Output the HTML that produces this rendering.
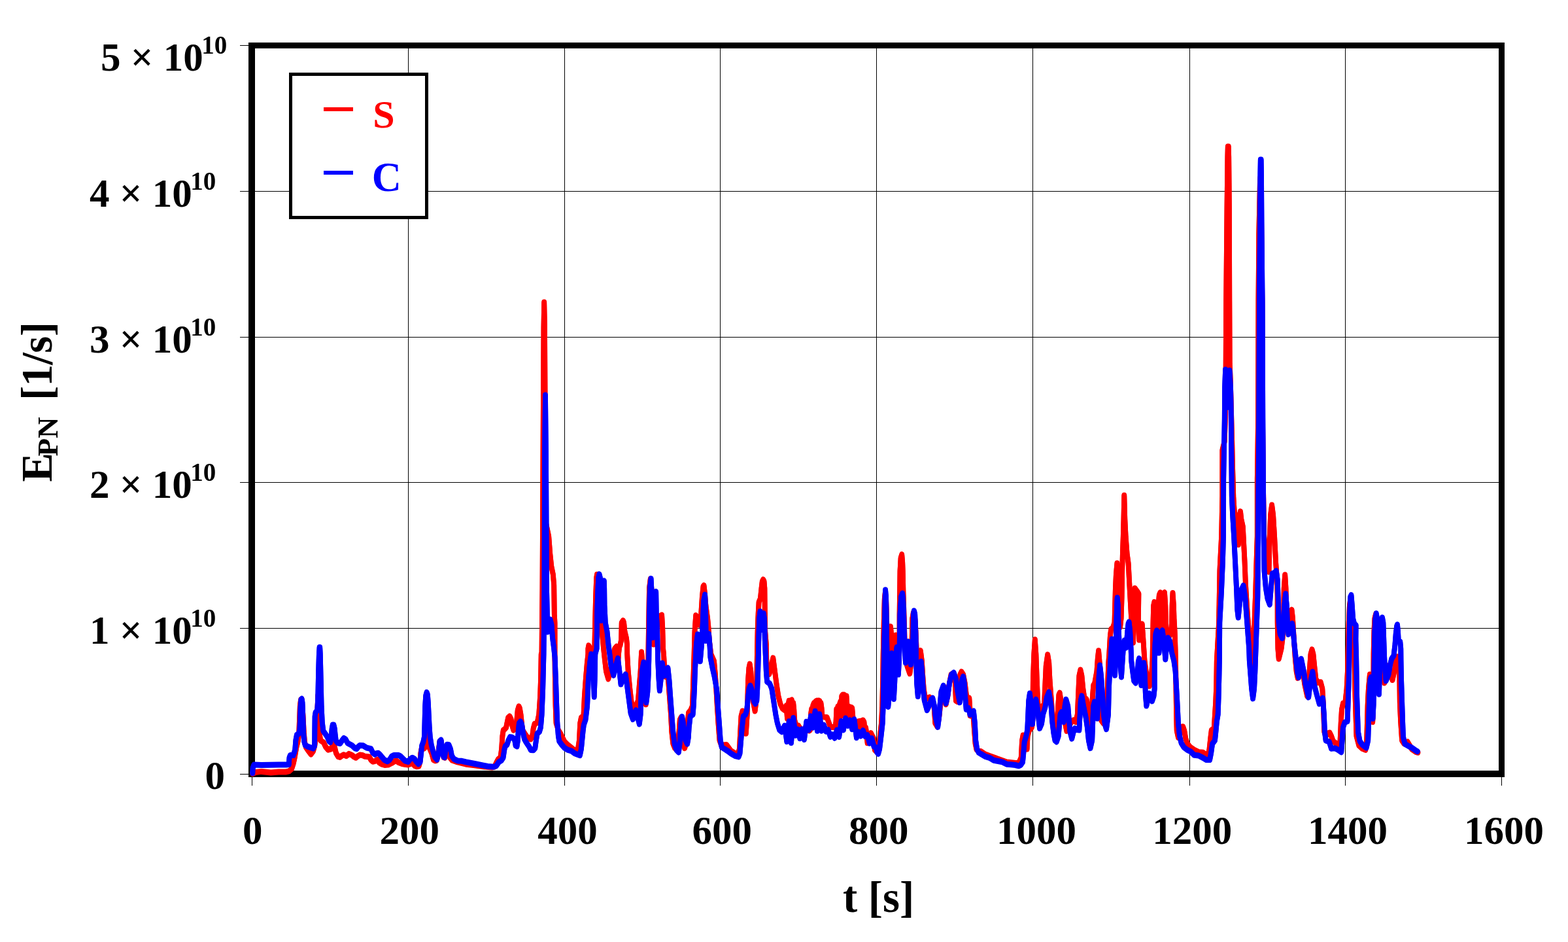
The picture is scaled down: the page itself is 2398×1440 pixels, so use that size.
<!DOCTYPE html>
<html lang="en">
<head>
<meta charset="utf-8">
<title>E_PN vs t</title>
<style>
html,body{margin:0;padding:0;background:#fff;}
body{width:2398px;height:1440px;overflow:hidden;}
svg{display:block;}
text{font-family:"Liberation Serif","DejaVu Serif",serif;font-weight:bold;fill:#000;}
.tk{font-size:61px;}
.sup{font-size:39px;}
.ttl{font-size:66.7px;}
.sub{font-size:45px;}
.lg{font-size:60px;}
</style>
</head>
<body>
<svg width="2398" height="1440" viewBox="0 0 2398 1440">
<rect x="0" y="0" width="2398" height="1440" fill="#fff"/>
<g fill="#000" shape-rendering="crispEdges"><rect x="624" y="74" width="1" height="1104"/><rect x="863" y="74" width="1" height="1104"/><rect x="1101" y="74" width="1" height="1104"/><rect x="1340" y="74" width="1" height="1104"/><rect x="1579" y="74" width="1" height="1104"/><rect x="1819" y="74" width="1" height="1104"/><rect x="2057" y="74" width="1" height="1104"/><rect x="390" y="960" width="1902" height="1"/><rect x="390" y="737" width="1902" height="1"/><rect x="390" y="515" width="1902" height="1"/><rect x="390" y="292" width="1902" height="1"/><rect x="385" y="1188" width="1" height="13"/><rect x="624" y="1188" width="1" height="13"/><rect x="863" y="1188" width="1" height="13"/><rect x="1101" y="1188" width="1" height="13"/><rect x="1340" y="1188" width="1" height="13"/><rect x="1579" y="1188" width="1" height="13"/><rect x="1819" y="1188" width="1" height="13"/><rect x="2057" y="1188" width="1" height="13"/><rect x="2296" y="1188" width="1" height="13"/><rect x="367" y="1183" width="13" height="1"/><rect x="367" y="960" width="13" height="1"/><rect x="367" y="737" width="13" height="1"/><rect x="367" y="515" width="13" height="1"/><rect x="367" y="292" width="13" height="1"/><rect x="367" y="69" width="13" height="1"/></g>
<path fill="#000" fill-rule="evenodd" shape-rendering="crispEdges" d="M442 111H655V335H442ZM447 116V330H650V116Z"/>
<rect x="447" y="116" width="203" height="214" fill="#fff"/>
<rect x="495" y="164" width="45" height="6" fill="#f00" shape-rendering="crispEdges"/>
<rect x="495" y="261" width="45" height="6" fill="#00f" shape-rendering="crispEdges"/>
<text class="lg" x="570.2" y="195" style="fill:#f00">S</text>
<text class="lg" x="568.8" y="292" style="fill:#00f;font-size:62.5px">C</text>
<path fill="#000" fill-rule="evenodd" shape-rendering="crispEdges" d="M380 65H2301V1188H380ZM390 74V1178H2292V74Z"/>
<g><polyline points="386.3,1182.5 390.6,1180.5 399.8,1179.4 414.3,1181.0 426.2,1180.1 436.7,1180.1 442.0,1178.8 446.0,1175.5 448.6,1167.5 450.6,1158.3 453.2,1143.1 455.9,1131.9 457.2,1121.4 457.8,1105.5 458.8,1079.2 460.1,1069.3 461.5,1068.9 463.4,1092.3 464.7,1118.7 466.0,1134.6 468.0,1142.5 471.7,1147.8 475.6,1153.0 478.9,1148.4 481.3,1139.8 484.2,1118.7 485.5,1084.4 486.2,1063.3 487.1,1084.4 488.2,1118.7 490.2,1131.9 494.8,1134.8 498.1,1141.8 502.0,1146.2 506.0,1145.1 508.6,1139.8 509.9,1137.2 511.9,1142.5 513.9,1151.1 517.2,1156.7 519.8,1157.4 523.1,1155.0 525.8,1153.7 529.7,1155.7 533.7,1152.4 538.3,1154.4 541.6,1157.0 544.2,1158.3 547.5,1155.7 550.2,1154.1 554.1,1154.4 558.1,1156.3 564.7,1157.0 567.3,1161.6 570.0,1164.2 573.3,1163.6 577.2,1161.2 579.9,1165.6 583.8,1168.2 588.4,1169.5 593.7,1169.1 599.0,1166.5 603.6,1163.6 606.3,1162.9 609.6,1165.6 614.8,1167.5 620.1,1168.6 624.1,1168.9 629.3,1166.9 631.3,1167.5 634.6,1170.8 637.3,1171.8 640.6,1171.2 642.3,1164.9 643.3,1151.7 644.5,1145.1 649.1,1143.8 651.8,1131.9 653.7,1122.7 655.5,1131.9 657.0,1143.8 660.3,1151.7 663.0,1161.6 665.6,1162.9 667.9,1162.3 670.6,1147.8 672.5,1133.2 674.5,1131.9 676.5,1145.1 678.5,1157.7 680.4,1158.3 682.4,1147.8 684.4,1142.5 686.4,1147.8 688.4,1158.3 691.7,1162.3 699.6,1164.9 712.8,1168.2 726.0,1169.8 739.2,1171.8 752.3,1173.1 756.3,1172.2 759.6,1164.9 762.2,1160.3 765.5,1157.7 767.1,1145.1 768.4,1125.3 769.8,1116.1 772.1,1114.5 774.1,1112.1 775.4,1105.5 777.2,1097.0 779.4,1095.0 781.4,1098.9 783.4,1109.5 785.3,1116.1 786.6,1114.8 789.9,1105.5 791.7,1085.8 793.5,1079.8 794.8,1082.5 796.5,1092.3 797.9,1105.5 799.2,1116.1 802.5,1121.4 805.8,1126.0 809.1,1129.0 811.7,1129.9 814.1,1125.3 815.7,1113.5 817.7,1106.2 821.6,1104.9 824.2,1092.3 826.0,1066.0 827.0,1039.6 827.7,1000.0 828.5,1000.0 829.5,900.0 830.5,700.0 831.5,500.0 832.2,462.0 833.0,500.0 834.0,700.0 835.0,800.0 839.2,820.0 841.2,846.0 843.3,866.0 845.8,878.0 847.2,894.0 847.8,939.0 848.5,952.0 848.5,1005.0 848.9,1039.6 849.6,1079.2 850.6,1105.5 853.9,1116.1 857.2,1121.4 863.2,1133.5 868.4,1138.8 873.7,1142.9 879.0,1147.1 882.3,1149.7 884.3,1142.5 885.9,1131.9 887.2,1105.5 888.9,1097.0 892.5,1094.3 893.8,1066.0 895.9,1036.9 897.9,1013.2 899.4,1000.0 899.4,991.5 900.3,986.9 902.0,990.2 904.7,1000.7 907.3,1002.1 909.3,991.5 910.3,945.3 911.1,912.3 912.2,883.3 913.0,878.3 913.9,883.3 915.2,912.3 917.2,938.7 919.8,951.9 921.2,971.7 923.1,991.5 925.1,1010.0 925.1,1010.0 927.0,1026.3 930.3,1037.8 935.0,1017.9 938.3,999.9 940.2,991.5 942.9,988.2 944.2,998.1 945.1,1012.6 946.2,998.1 947.2,988.9 948.5,986.2 950.1,978.3 950.7,951.9 952.8,948.6 954.1,951.9 955.4,965.1 958.0,975.7 959.1,986.2 959.2,999.9 960.7,1026.3 963.3,1052.7 965.7,1073.8 970.6,1084.4 975.9,1070.7 977.8,1047.4 979.6,1026.3 981.1,996.8 983.1,1017.9 985.1,1050.9 987.7,1076.7 990.0,1050.9 991.0,1039.5 991.4,999.9 992.1,951.9 993.0,899.2 994.7,885.3 996.3,899.2 998.3,951.9 999.6,984.9 1002.2,965.1 1006.9,951.9 1010.2,941.4 1012.1,940.1 1013.2,958.5 1014.1,991.5 1015.0,999.9 1016.1,1019.7 1017.4,1034.2 1020.1,1031.1 1022.0,1039.5 1024.0,1065.9 1026.0,1092.3 1027.3,1118.7 1029.3,1136.6 1031.9,1143.2 1034.8,1146.4 1037.2,1131.9 1038.5,1118.7 1039.8,1100.2 1041.8,1096.3 1044.5,1118.7 1045.8,1138.5 1047.1,1143.7 1050.4,1131.9 1051.7,1105.5 1053.0,1089.7 1056.3,1085.7 1059.0,1079.1 1060.3,1039.5 1061.6,999.9 1062.5,965.1 1064.2,940.7 1066.5,946.6 1069.5,955.2 1072.2,938.7 1073.9,912.3 1075.5,896.5 1076.5,894.9 1077.8,905.8 1079.4,925.5 1082.1,945.3 1083.4,958.5 1084.7,978.3 1087.3,999.9 1092.0,1010.5 1093.7,1029.0 1095.3,1052.7 1096.8,1079.1 1098.5,1105.5 1100.5,1131.9 1103.2,1139.3 1111.1,1138.5 1117.7,1147.7 1124.3,1151.7 1128.2,1153.6 1130.9,1145.1 1132.2,1118.7 1133.5,1094.9 1135.5,1087.0 1138.8,1092.3 1140.8,1121.3 1142.7,1092.3 1144.1,1039.5 1145.4,1021.1 1146.7,1015.1 1148.3,1026.3 1150.0,1052.7 1152.2,1073.8 1154.6,1087.0 1156.6,1070.7 1157.5,1031.1 1157.9,999.9 1158.6,965.1 1159.6,938.7 1160.6,920.3 1162.9,915.0 1164.5,899.2 1165.8,888.6 1167.2,886.0 1168.5,888.6 1169.4,899.2 1169.8,938.7 1170.2,965.1 1171.8,984.9 1172.3,1010.0 1173.7,1026.3 1176.4,1030.3 1179.7,1017.9 1182.3,1005.9 1185.0,1026.3 1187.6,1046.1 1190.2,1063.3 1193.5,1076.5 1196.8,1083.1 1200.0,1085.7 1201.3,1082.5 1202.6,1078.6 1204.0,1098.4 1205.5,1077.3 1206.6,1071.3 1208.2,1094.4 1209.5,1070.7 1210.8,1070.0 1212.1,1093.1 1213.2,1074.6 1214.2,1083.9 1215.2,1101.0 1217.2,1108.1 1221.1,1109.4 1226.4,1117.4 1230.3,1114.2 1234.3,1110.2 1237.6,1116.8 1238.9,1116.0 1240.2,1090.4 1241.2,1083.9 1242.2,1101.0 1243.3,1078.6 1244.9,1074.6 1246.2,1094.4 1247.5,1072.2 1249.1,1071.2 1250.4,1091.8 1251.7,1070.9 1253.4,1071.5 1254.4,1090.4 1255.4,1074.6 1256.5,1082.5 1257.4,1094.4 1259.4,1095.7 1261.3,1096.3 1264.6,1096.4 1266.0,1100.2 1269.3,1109.4 1271.2,1111.4 1273.9,1111.4 1277.2,1112.2 1278.5,1103.6 1279.4,1083.9 1280.5,1099.7 1281.5,1079.9 1282.8,1097.0 1284.2,1075.9 1285.5,1072.0 1286.4,1094.4 1287.3,1064.1 1288.7,1062.2 1289.7,1090.4 1290.8,1062.0 1292.3,1063.0 1293.4,1090.4 1294.5,1064.1 1295.3,1075.9 1296.0,1094.4 1297.4,1082.5 1298.9,1080.6 1300.3,1095.7 1301.6,1081.2 1303.2,1082.5 1304.2,1094.4 1305.5,1102.8 1309.5,1110.2 1311.5,1105.0 1312.8,1103.0 1314.1,1115.5 1315.4,1102.3 1317.2,1102.3 1318.5,1116.8 1319.8,1101.0 1321.4,1103.6 1322.7,1118.2 1324.0,1112.1 1325.6,1123.4 1326.6,1135.8 1329.3,1126.1 1331.9,1120.7 1335.9,1128.7 1337.9,1146.4 1341.2,1149.8 1343.8,1145.1 1345.8,1125.3 1348.0,1105.5 1349.3,1079.1 1350.1,1039.5 1350.7,999.9 1351.7,951.9 1352.8,915.0 1353.8,905.8 1355.1,915.0 1356.2,951.9 1357.7,999.9 1359.0,978.3 1360.7,959.8 1362.0,957.9 1363.3,971.7 1364.2,994.1 1365.6,995.5 1366.5,978.3 1368.2,971.7 1369.9,971.1 1371.2,984.9 1372.2,995.5 1374.1,991.5 1375.6,978.3 1375.6,941.4 1376.5,872.8 1377.6,853.0 1379.2,847.7 1380.2,859.6 1380.7,872.8 1381.4,904.4 1382.6,942.7 1383.4,973.0 1384.4,999.9 1387.3,1017.9 1391.3,1029.6 1393.7,1011.3 1394.7,978.3 1395.3,945.3 1396.8,936.8 1398.2,936.8 1399.9,951.9 1401.6,991.5 1403.8,1004.7 1405.8,998.1 1407.8,994.8 1409.8,1010.0 1411.1,1031.1 1412.7,1052.7 1414.4,1064.1 1417.7,1068.0 1421.6,1065.9 1424.9,1070.7 1428.4,1079.1 1430.3,1105.5 1433.5,1110.8 1436.1,1097.0 1438.1,1079.1 1439.6,1070.7 1441.6,1052.7 1443.4,1049.6 1445.1,1064.1 1446.7,1076.7 1449.3,1064.1 1452.0,1044.3 1454.6,1031.1 1457.9,1029.1 1460.6,1039.5 1461.9,1071.2 1463.9,1072.5 1466.5,1050.9 1468.5,1031.1 1470.4,1027.0 1473.1,1031.1 1475.7,1044.3 1477.7,1061.4 1479.7,1068.0 1482.3,1067.2 1483.4,1083.9 1483.6,1093.9 1486.9,1090.4 1488.9,1098.9 1490.2,1118.7 1491.6,1136.6 1493.5,1145.9 1496.8,1148.5 1500.0,1148.5 1506.6,1153.0 1513.2,1155.6 1526.4,1160.2 1539.6,1164.9 1552.8,1166.4 1558.0,1166.2 1561.7,1158.3 1563.1,1131.9 1564.6,1124.0 1567.9,1131.9 1570.6,1145.1 1571.5,1125.3 1573.9,1116.8 1577.8,1112.1 1579.2,1105.5 1579.9,1039.5 1581.3,999.9 1582.8,977.7 1584.4,999.9 1585.5,1031.1 1586.5,1057.5 1587.6,1079.1 1588.7,1097.6 1591.0,1109.4 1593.0,1090.4 1594.7,1079.1 1597.0,1076.5 1598.4,1046.1 1599.7,1017.9 1602.2,1000.7 1604.2,1013.1 1605.5,1039.5 1607.5,1065.9 1609.5,1092.3 1611.1,1112.1 1613.5,1116.0 1616.8,1105.5 1618.2,1079.1 1619.4,1062.0 1620.7,1059.1 1622.4,1070.7 1624.7,1083.9 1627.3,1097.0 1631.3,1117.4 1634.6,1110.2 1638.5,1103.6 1641.8,1100.9 1645.1,1103.6 1647.8,1092.3 1649.1,1062.0 1650.4,1032.9 1652.4,1024.0 1654.4,1032.9 1656.3,1052.7 1658.3,1065.9 1661.6,1069.2 1663.3,1079.1 1664.9,1097.0 1666.5,1110.2 1668.9,1097.0 1671.0,1063.3 1672.3,1047.4 1674.1,1044.8 1677.4,1026.3 1678.8,1006.5 1680.1,994.8 1682.1,1017.9 1683.4,1070.7 1684.0,1100.9 1687.3,1105.5 1691.3,1097.0 1693.4,1065.9 1695.3,1013.1 1696.3,999.9 1697.9,971.7 1699.2,961.8 1701.8,959.8 1704.5,951.9 1705.9,899.2 1706.9,878.0 1708.4,860.9 1710.0,879.4 1711.3,918.9 1713.1,958.5 1714.6,945.3 1715.6,912.3 1716.2,872.8 1717.0,842.4 1717.8,820.0 1718.5,793.6 1719.3,757.3 1720.3,793.6 1721.6,820.0 1723.6,846.4 1725.6,860.9 1726.6,879.4 1728.0,905.8 1729.8,938.7 1731.5,965.1 1733.0,982.3 1734.0,951.9 1734.8,912.3 1735.6,899.2 1737.5,901.8 1739.4,904.4 1741.4,907.7 1740.9,945.3 1742.1,978.3 1744.1,965.1 1746.7,953.9 1748.0,971.7 1749.3,991.5 1750.5,1010.0 1752.6,1026.3 1755.9,1039.5 1757.9,1048.8 1760.6,1037.7 1762.5,1010.0 1763.5,951.9 1764.2,925.5 1765.4,920.3 1767.2,925.5 1768.5,951.9 1769.4,965.1 1770.4,951.9 1771.5,925.5 1772.8,909.7 1774.4,905.8 1775.7,925.5 1776.4,951.9 1776.8,965.1 1777.6,951.9 1778.4,925.5 1779.4,907.1 1781.0,905.8 1782.3,925.5 1783.2,959.8 1785.6,969.1 1788.9,971.7 1790.9,965.1 1792.0,951.9 1792.6,925.5 1793.5,906.4 1794.9,925.5 1795.5,945.3 1796.6,965.1 1797.5,991.5 1798.2,1025.9 1798.5,1052.3 1799.1,1091.9 1799.7,1116.8 1802.0,1127.4 1804.0,1123.4 1805.9,1114.2 1807.7,1111.0 1809.2,1110.8 1811.2,1116.8 1813.2,1128.7 1815.8,1136.6 1819.8,1141.8 1826.4,1146.4 1833.0,1149.7 1839.6,1150.3 1844.9,1154.3 1847.2,1156.3 1849.5,1145.1 1851.5,1126.6 1852.8,1116.0 1856.7,1113.4 1858.0,1092.3 1859.1,1075.1 1860.2,1050.1 1860.8,1010.0 1864.1,951.9 1865.4,872.8 1868.1,820.0 1869.4,758.8 1869.4,688.1 1872.7,674.9 1873.9,640.1 1874.7,556.1 1875.2,460.0 1876.5,318.7 1877.4,239.5 1877.8,224.0 1878.8,224.0 1879.2,239.5 1879.9,318.7 1880.3,460.0 1880.7,556.1 1881.8,582.5 1884.3,679.6 1885.0,712.6 1886.3,758.8 1887.6,779.9 1891.0,798.4 1893.0,818.2 1893.9,832.5 1895.0,806.8 1896.0,787.0 1897.0,781.9 1898.3,793.6 1900.8,805.0 1902.1,830.0 1903.6,859.6 1904.9,892.6 1906.9,925.5 1908.8,951.9 1911.5,978.3 1913.7,999.9 1915.4,1039.5 1917.2,999.9 1918.9,938.7 1920.2,905.8 1921.5,859.6 1922.8,820.0 1922.8,732.4 1924.1,640.1 1924.5,460.0 1925.3,358.3 1926.9,279.1 1927.6,270.4 1928.5,279.1 1929.3,358.3 1930.3,460.0 1931.0,640.1 1931.7,727.7 1933.2,820.0 1937.2,859.6 1940.5,874.1 1941.8,820.0 1943.1,787.0 1945.1,772.0 1947.1,787.0 1949.1,820.0 1951.1,859.6 1953.0,886.0 1953.7,912.3 1953.7,951.9 1954.4,991.5 1955.7,1007.2 1959.6,991.5 1962.0,971.7 1963.1,945.3 1963.7,899.2 1965.2,878.7 1966.5,899.2 1967.3,925.5 1970.2,951.9 1972.8,938.7 1975.5,932.1 1977.0,945.3 1978.1,965.1 1979.4,984.9 1980.7,1004.7 1982.7,1026.3 1984.7,1036.4 1986.7,1017.9 1988.7,1008.7 1992.6,1026.3 1995.3,1046.1 1999.2,1064.1 2001.2,1044.3 2003.2,1017.9 2004.5,999.9 2006.5,992.8 2008.4,999.9 2010.4,1019.7 2012.4,1038.2 2015.7,1043.5 2019.7,1042.8 2022.3,1052.7 2023.6,1072.5 2024.3,1092.3 2025.3,1118.7 2027.6,1125.3 2030.2,1121.3 2033.5,1120.0 2036.1,1125.3 2038.8,1133.2 2042.7,1135.8 2045.4,1142.4 2048.0,1146.4 2049.6,1131.9 2050.7,1105.5 2052.0,1084.4 2054.0,1075.1 2057.3,1073.8 2059.6,1052.7 2060.9,1026.3 2061.3,1010.0 2062.7,951.9 2063.9,925.5 2065.4,915.0 2067.2,925.5 2069.1,951.9 2070.4,978.3 2071.2,999.9 2072.6,1065.9 2074.5,1125.3 2078.4,1139.8 2083.6,1144.4 2088.3,1146.4 2090.2,1131.9 2091.6,1079.1 2092.9,1052.7 2094.9,1031.1 2096.8,1033.7 2098.2,1057.5 2099.2,1103.6 2100.1,1083.9 2100.4,1044.3 2100.6,999.9 2101.4,965.1 2102.4,945.3 2104.1,938.7 2105.7,946.6 2107.0,978.3 2108.4,1057.5 2110.1,1017.9 2111.7,978.3 2113.2,946.6 2114.6,951.9 2115.6,978.3 2117.2,1044.1 2119.6,1037.7 2123.5,1017.9 2126.2,1025.8 2129.5,1039.5 2132.8,1024.5 2135.4,1007.3 2137.4,1004.0 2139.4,1011.3 2140.2,1023.7 2140.8,1073.8 2142.1,1102.8 2144.1,1131.9 2147.3,1136.6 2152.6,1134.0 2159.2,1145.1 2165.8,1149.7 2168.4,1150.3" fill="none" stroke="#f00" stroke-width="7.8" stroke-linejoin="round" stroke-linecap="round" transform="translate(0,-0.6)"/><polyline points="386.3,1182.5 390.6,1180.5 399.8,1179.4 414.3,1181.0 426.2,1180.1 436.7,1180.1 442.0,1178.8 446.0,1175.5 448.6,1167.5 450.6,1158.3 453.2,1143.1 455.9,1131.9 457.2,1121.4 457.8,1105.5 458.8,1079.2 460.1,1069.3 461.5,1068.9 463.4,1092.3 464.7,1118.7 466.0,1134.6 468.0,1142.5 471.7,1147.8 475.6,1153.0 478.9,1148.4 481.3,1139.8 484.2,1118.7 485.5,1084.4 486.2,1063.3 487.1,1084.4 488.2,1118.7 490.2,1131.9 494.8,1134.8 498.1,1141.8 502.0,1146.2 506.0,1145.1 508.6,1139.8 509.9,1137.2 511.9,1142.5 513.9,1151.1 517.2,1156.7 519.8,1157.4 523.1,1155.0 525.8,1153.7 529.7,1155.7 533.7,1152.4 538.3,1154.4 541.6,1157.0 544.2,1158.3 547.5,1155.7 550.2,1154.1 554.1,1154.4 558.1,1156.3 564.7,1157.0 567.3,1161.6 570.0,1164.2 573.3,1163.6 577.2,1161.2 579.9,1165.6 583.8,1168.2 588.4,1169.5 593.7,1169.1 599.0,1166.5 603.6,1163.6 606.3,1162.9 609.6,1165.6 614.8,1167.5 620.1,1168.6 624.1,1168.9 629.3,1166.9 631.3,1167.5 634.6,1170.8 637.3,1171.8 640.6,1171.2 642.3,1164.9 643.3,1151.7 644.5,1145.1 649.1,1143.8 651.8,1131.9 653.7,1122.7 655.5,1131.9 657.0,1143.8 660.3,1151.7 663.0,1161.6 665.6,1162.9 667.9,1162.3 670.6,1147.8 672.5,1133.2 674.5,1131.9 676.5,1145.1 678.5,1157.7 680.4,1158.3 682.4,1147.8 684.4,1142.5 686.4,1147.8 688.4,1158.3 691.7,1162.3 699.6,1164.9 712.8,1168.2 726.0,1169.8 739.2,1171.8 752.3,1173.1 756.3,1172.2 759.6,1164.9 762.2,1160.3 765.5,1157.7 767.1,1145.1 768.4,1125.3 769.8,1116.1 772.1,1114.5 774.1,1112.1 775.4,1105.5 777.2,1097.0 779.4,1095.0 781.4,1098.9 783.4,1109.5 785.3,1116.1 786.6,1114.8 789.9,1105.5 791.7,1085.8 793.5,1079.8 794.8,1082.5 796.5,1092.3 797.9,1105.5 799.2,1116.1 802.5,1121.4 805.8,1126.0 809.1,1129.0 811.7,1129.9 814.1,1125.3 815.7,1113.5 817.7,1106.2 821.6,1104.9 824.2,1092.3 826.0,1066.0 827.0,1039.6 827.7,1000.0 828.5,1000.0 829.5,900.0 830.5,700.0 831.5,500.0 832.2,462.0 833.0,500.0 834.0,700.0 835.0,800.0 839.2,820.0 841.2,846.0 843.3,866.0 845.8,878.0 847.2,894.0 847.8,939.0 848.5,952.0 848.5,1005.0 848.9,1039.6 849.6,1079.2 850.6,1105.5 853.9,1116.1 857.2,1121.4 863.2,1133.5 868.4,1138.8 873.7,1142.9 879.0,1147.1 882.3,1149.7 884.3,1142.5 885.9,1131.9 887.2,1105.5 888.9,1097.0 892.5,1094.3 893.8,1066.0 895.9,1036.9 897.9,1013.2 899.4,1000.0 899.4,991.5 900.3,986.9 902.0,990.2 904.7,1000.7 907.3,1002.1 909.3,991.5 910.3,945.3 911.1,912.3 912.2,883.3 913.0,878.3 913.9,883.3 915.2,912.3 917.2,938.7 919.8,951.9 921.2,971.7 923.1,991.5 925.1,1010.0 925.1,1010.0 927.0,1026.3 930.3,1037.8 935.0,1017.9 938.3,999.9 940.2,991.5 942.9,988.2 944.2,998.1 945.1,1012.6 946.2,998.1 947.2,988.9 948.5,986.2 950.1,978.3 950.7,951.9 952.8,948.6 954.1,951.9 955.4,965.1 958.0,975.7 959.1,986.2 959.2,999.9 960.7,1026.3 963.3,1052.7 965.7,1073.8 970.6,1084.4 975.9,1070.7 977.8,1047.4 979.6,1026.3 981.1,996.8 983.1,1017.9 985.1,1050.9 987.7,1076.7 990.0,1050.9 991.0,1039.5 991.4,999.9 992.1,951.9 993.0,899.2 994.7,885.3 996.3,899.2 998.3,951.9 999.6,984.9 1002.2,965.1 1006.9,951.9 1010.2,941.4 1012.1,940.1 1013.2,958.5 1014.1,991.5 1015.0,999.9 1016.1,1019.7 1017.4,1034.2 1020.1,1031.1 1022.0,1039.5 1024.0,1065.9 1026.0,1092.3 1027.3,1118.7 1029.3,1136.6 1031.9,1143.2 1034.8,1146.4 1037.2,1131.9 1038.5,1118.7 1039.8,1100.2 1041.8,1096.3 1044.5,1118.7 1045.8,1138.5 1047.1,1143.7 1050.4,1131.9 1051.7,1105.5 1053.0,1089.7 1056.3,1085.7 1059.0,1079.1 1060.3,1039.5 1061.6,999.9 1062.5,965.1 1064.2,940.7 1066.5,946.6 1069.5,955.2 1072.2,938.7 1073.9,912.3 1075.5,896.5 1076.5,894.9 1077.8,905.8 1079.4,925.5 1082.1,945.3 1083.4,958.5 1084.7,978.3 1087.3,999.9 1092.0,1010.5 1093.7,1029.0 1095.3,1052.7 1096.8,1079.1 1098.5,1105.5 1100.5,1131.9 1103.2,1139.3 1111.1,1138.5 1117.7,1147.7 1124.3,1151.7 1128.2,1153.6 1130.9,1145.1 1132.2,1118.7 1133.5,1094.9 1135.5,1087.0 1138.8,1092.3 1140.8,1121.3 1142.7,1092.3 1144.1,1039.5 1145.4,1021.1 1146.7,1015.1 1148.3,1026.3 1150.0,1052.7 1152.2,1073.8 1154.6,1087.0 1156.6,1070.7 1157.5,1031.1 1157.9,999.9 1158.6,965.1 1159.6,938.7 1160.6,920.3 1162.9,915.0 1164.5,899.2 1165.8,888.6 1167.2,886.0 1168.5,888.6 1169.4,899.2 1169.8,938.7 1170.2,965.1 1171.8,984.9 1172.3,1010.0 1173.7,1026.3 1176.4,1030.3 1179.7,1017.9 1182.3,1005.9 1185.0,1026.3 1187.6,1046.1 1190.2,1063.3 1193.5,1076.5 1196.8,1083.1 1200.0,1085.7 1201.3,1082.5 1202.6,1078.6 1204.0,1098.4 1205.5,1077.3 1206.6,1071.3 1208.2,1094.4 1209.5,1070.7 1210.8,1070.0 1212.1,1093.1 1213.2,1074.6 1214.2,1083.9 1215.2,1101.0 1217.2,1108.1 1221.1,1109.4 1226.4,1117.4 1230.3,1114.2 1234.3,1110.2 1237.6,1116.8 1238.9,1116.0 1240.2,1090.4 1241.2,1083.9 1242.2,1101.0 1243.3,1078.6 1244.9,1074.6 1246.2,1094.4 1247.5,1072.2 1249.1,1071.2 1250.4,1091.8 1251.7,1070.9 1253.4,1071.5 1254.4,1090.4 1255.4,1074.6 1256.5,1082.5 1257.4,1094.4 1259.4,1095.7 1261.3,1096.3 1264.6,1096.4 1266.0,1100.2 1269.3,1109.4 1271.2,1111.4 1273.9,1111.4 1277.2,1112.2 1278.5,1103.6 1279.4,1083.9 1280.5,1099.7 1281.5,1079.9 1282.8,1097.0 1284.2,1075.9 1285.5,1072.0 1286.4,1094.4 1287.3,1064.1 1288.7,1062.2 1289.7,1090.4 1290.8,1062.0 1292.3,1063.0 1293.4,1090.4 1294.5,1064.1 1295.3,1075.9 1296.0,1094.4 1297.4,1082.5 1298.9,1080.6 1300.3,1095.7 1301.6,1081.2 1303.2,1082.5 1304.2,1094.4 1305.5,1102.8 1309.5,1110.2 1311.5,1105.0 1312.8,1103.0 1314.1,1115.5 1315.4,1102.3 1317.2,1102.3 1318.5,1116.8 1319.8,1101.0 1321.4,1103.6 1322.7,1118.2 1324.0,1112.1 1325.6,1123.4 1326.6,1135.8 1329.3,1126.1 1331.9,1120.7 1335.9,1128.7 1337.9,1146.4 1341.2,1149.8 1343.8,1145.1 1345.8,1125.3 1348.0,1105.5 1349.3,1079.1 1350.1,1039.5 1350.7,999.9 1351.7,951.9 1352.8,915.0 1353.8,905.8 1355.1,915.0 1356.2,951.9 1357.7,999.9 1359.0,978.3 1360.7,959.8 1362.0,957.9 1363.3,971.7 1364.2,994.1 1365.6,995.5 1366.5,978.3 1368.2,971.7 1369.9,971.1 1371.2,984.9 1372.2,995.5 1374.1,991.5 1375.6,978.3 1375.6,941.4 1376.5,872.8 1377.6,853.0 1379.2,847.7 1380.2,859.6 1380.7,872.8 1381.4,904.4 1382.6,942.7 1383.4,973.0 1384.4,999.9 1387.3,1017.9 1391.3,1029.6 1393.7,1011.3 1394.7,978.3 1395.3,945.3 1396.8,936.8 1398.2,936.8 1399.9,951.9 1401.6,991.5 1403.8,1004.7 1405.8,998.1 1407.8,994.8 1409.8,1010.0 1411.1,1031.1 1412.7,1052.7 1414.4,1064.1 1417.7,1068.0 1421.6,1065.9 1424.9,1070.7 1428.4,1079.1 1430.3,1105.5 1433.5,1110.8 1436.1,1097.0 1438.1,1079.1 1439.6,1070.7 1441.6,1052.7 1443.4,1049.6 1445.1,1064.1 1446.7,1076.7 1449.3,1064.1 1452.0,1044.3 1454.6,1031.1 1457.9,1029.1 1460.6,1039.5 1461.9,1071.2 1463.9,1072.5 1466.5,1050.9 1468.5,1031.1 1470.4,1027.0 1473.1,1031.1 1475.7,1044.3 1477.7,1061.4 1479.7,1068.0 1482.3,1067.2 1483.4,1083.9 1483.6,1093.9 1486.9,1090.4 1488.9,1098.9 1490.2,1118.7 1491.6,1136.6 1493.5,1145.9 1496.8,1148.5 1500.0,1148.5 1506.6,1153.0 1513.2,1155.6 1526.4,1160.2 1539.6,1164.9 1552.8,1166.4 1558.0,1166.2 1561.7,1158.3 1563.1,1131.9 1564.6,1124.0 1567.9,1131.9 1570.6,1145.1 1571.5,1125.3 1573.9,1116.8 1577.8,1112.1 1579.2,1105.5 1579.9,1039.5 1581.3,999.9 1582.8,977.7 1584.4,999.9 1585.5,1031.1 1586.5,1057.5 1587.6,1079.1 1588.7,1097.6 1591.0,1109.4 1593.0,1090.4 1594.7,1079.1 1597.0,1076.5 1598.4,1046.1 1599.7,1017.9 1602.2,1000.7 1604.2,1013.1 1605.5,1039.5 1607.5,1065.9 1609.5,1092.3 1611.1,1112.1 1613.5,1116.0 1616.8,1105.5 1618.2,1079.1 1619.4,1062.0 1620.7,1059.1 1622.4,1070.7 1624.7,1083.9 1627.3,1097.0 1631.3,1117.4 1634.6,1110.2 1638.5,1103.6 1641.8,1100.9 1645.1,1103.6 1647.8,1092.3 1649.1,1062.0 1650.4,1032.9 1652.4,1024.0 1654.4,1032.9 1656.3,1052.7 1658.3,1065.9 1661.6,1069.2 1663.3,1079.1 1664.9,1097.0 1666.5,1110.2 1668.9,1097.0 1671.0,1063.3 1672.3,1047.4 1674.1,1044.8 1677.4,1026.3 1678.8,1006.5 1680.1,994.8 1682.1,1017.9 1683.4,1070.7 1684.0,1100.9 1687.3,1105.5 1691.3,1097.0 1693.4,1065.9 1695.3,1013.1 1696.3,999.9 1697.9,971.7 1699.2,961.8 1701.8,959.8 1704.5,951.9 1705.9,899.2 1706.9,878.0 1708.4,860.9 1710.0,879.4 1711.3,918.9 1713.1,958.5 1714.6,945.3 1715.6,912.3 1716.2,872.8 1717.0,842.4 1717.8,820.0 1718.5,793.6 1719.3,757.3 1720.3,793.6 1721.6,820.0 1723.6,846.4 1725.6,860.9 1726.6,879.4 1728.0,905.8 1729.8,938.7 1731.5,965.1 1733.0,982.3 1734.0,951.9 1734.8,912.3 1735.6,899.2 1737.5,901.8 1739.4,904.4 1741.4,907.7 1740.9,945.3 1742.1,978.3 1744.1,965.1 1746.7,953.9 1748.0,971.7 1749.3,991.5 1750.5,1010.0 1752.6,1026.3 1755.9,1039.5 1757.9,1048.8 1760.6,1037.7 1762.5,1010.0 1763.5,951.9 1764.2,925.5 1765.4,920.3 1767.2,925.5 1768.5,951.9 1769.4,965.1 1770.4,951.9 1771.5,925.5 1772.8,909.7 1774.4,905.8 1775.7,925.5 1776.4,951.9 1776.8,965.1 1777.6,951.9 1778.4,925.5 1779.4,907.1 1781.0,905.8 1782.3,925.5 1783.2,959.8 1785.6,969.1 1788.9,971.7 1790.9,965.1 1792.0,951.9 1792.6,925.5 1793.5,906.4 1794.9,925.5 1795.5,945.3 1796.6,965.1 1797.5,991.5 1798.2,1025.9 1798.5,1052.3 1799.1,1091.9 1799.7,1116.8 1802.0,1127.4 1804.0,1123.4 1805.9,1114.2 1807.7,1111.0 1809.2,1110.8 1811.2,1116.8 1813.2,1128.7 1815.8,1136.6 1819.8,1141.8 1826.4,1146.4 1833.0,1149.7 1839.6,1150.3 1844.9,1154.3 1847.2,1156.3 1849.5,1145.1 1851.5,1126.6 1852.8,1116.0 1856.7,1113.4 1858.0,1092.3 1859.1,1075.1 1860.2,1050.1 1860.8,1010.0 1864.1,951.9 1865.4,872.8 1868.1,820.0 1869.4,758.8 1869.4,688.1 1872.7,674.9 1873.9,640.1 1874.7,556.1 1875.2,460.0 1876.5,318.7 1877.4,239.5 1877.8,224.0 1878.8,224.0 1879.2,239.5 1879.9,318.7 1880.3,460.0 1880.7,556.1 1881.8,582.5 1884.3,679.6 1885.0,712.6 1886.3,758.8 1887.6,779.9 1891.0,798.4 1893.0,818.2 1893.9,832.5 1895.0,806.8 1896.0,787.0 1897.0,781.9 1898.3,793.6 1900.8,805.0 1902.1,830.0 1903.6,859.6 1904.9,892.6 1906.9,925.5 1908.8,951.9 1911.5,978.3 1913.7,999.9 1915.4,1039.5 1917.2,999.9 1918.9,938.7 1920.2,905.8 1921.5,859.6 1922.8,820.0 1922.8,732.4 1924.1,640.1 1924.5,460.0 1925.3,358.3 1926.9,279.1 1927.6,270.4 1928.5,279.1 1929.3,358.3 1930.3,460.0 1931.0,640.1 1931.7,727.7 1933.2,820.0 1937.2,859.6 1940.5,874.1 1941.8,820.0 1943.1,787.0 1945.1,772.0 1947.1,787.0 1949.1,820.0 1951.1,859.6 1953.0,886.0 1953.7,912.3 1953.7,951.9 1954.4,991.5 1955.7,1007.2 1959.6,991.5 1962.0,971.7 1963.1,945.3 1963.7,899.2 1965.2,878.7 1966.5,899.2 1967.3,925.5 1970.2,951.9 1972.8,938.7 1975.5,932.1 1977.0,945.3 1978.1,965.1 1979.4,984.9 1980.7,1004.7 1982.7,1026.3 1984.7,1036.4 1986.7,1017.9 1988.7,1008.7 1992.6,1026.3 1995.3,1046.1 1999.2,1064.1 2001.2,1044.3 2003.2,1017.9 2004.5,999.9 2006.5,992.8 2008.4,999.9 2010.4,1019.7 2012.4,1038.2 2015.7,1043.5 2019.7,1042.8 2022.3,1052.7 2023.6,1072.5 2024.3,1092.3 2025.3,1118.7 2027.6,1125.3 2030.2,1121.3 2033.5,1120.0 2036.1,1125.3 2038.8,1133.2 2042.7,1135.8 2045.4,1142.4 2048.0,1146.4 2049.6,1131.9 2050.7,1105.5 2052.0,1084.4 2054.0,1075.1 2057.3,1073.8 2059.6,1052.7 2060.9,1026.3 2061.3,1010.0 2062.7,951.9 2063.9,925.5 2065.4,915.0 2067.2,925.5 2069.1,951.9 2070.4,978.3 2071.2,999.9 2072.6,1065.9 2074.5,1125.3 2078.4,1139.8 2083.6,1144.4 2088.3,1146.4 2090.2,1131.9 2091.6,1079.1 2092.9,1052.7 2094.9,1031.1 2096.8,1033.7 2098.2,1057.5 2099.2,1103.6 2100.1,1083.9 2100.4,1044.3 2100.6,999.9 2101.4,965.1 2102.4,945.3 2104.1,938.7 2105.7,946.6 2107.0,978.3 2108.4,1057.5 2110.1,1017.9 2111.7,978.3 2113.2,946.6 2114.6,951.9 2115.6,978.3 2117.2,1044.1 2119.6,1037.7 2123.5,1017.9 2126.2,1025.8 2129.5,1039.5 2132.8,1024.5 2135.4,1007.3 2137.4,1004.0 2139.4,1011.3 2140.2,1023.7 2140.8,1073.8 2142.1,1102.8 2144.1,1131.9 2147.3,1136.6 2152.6,1134.0 2159.2,1145.1 2165.8,1149.7 2168.4,1150.3" fill="none" stroke="#f00" stroke-width="7.8" stroke-linejoin="round" stroke-linecap="round" transform="translate(0,0.6)"/></g>
<g><polyline points="386.3,1181.8 386.7,1174.1 388.4,1169.1 399.8,1169.4 413.0,1169.3 426.2,1169.1 438.0,1169.1 441.7,1168.6 442.5,1158.3 443.9,1154.6 448.6,1154.6 451.2,1146.4 452.3,1131.9 453.9,1123.4 456.5,1122.0 458.4,1116.1 459.0,1100.3 459.7,1079.2 460.5,1069.3 461.5,1068.3 462.5,1073.9 463.1,1092.3 464.0,1118.7 465.1,1133.2 466.8,1139.2 471.0,1141.4 475.0,1142.7 478.9,1144.1 481.1,1139.8 481.3,1118.7 481.6,1095.0 482.6,1089.1 485.3,1085.8 486.3,1066.0 487.1,1026.4 487.9,1000.0 488.6,989.4 489.2,989.4 489.8,1000.0 490.7,1039.6 491.6,1079.2 492.8,1104.2 494.4,1117.4 498.1,1122.7 500.7,1126.6 503.4,1133.2 505.1,1134.6 506.6,1126.6 507.7,1113.5 508.8,1107.9 510.3,1107.9 511.7,1113.5 512.7,1124.0 513.9,1132.6 516.5,1135.6 520.1,1136.5 523.1,1131.9 525.8,1128.4 528.4,1129.9 531.7,1135.9 538.3,1139.6 542.9,1143.8 545.6,1144.6 548.2,1141.2 550.2,1139.6 555.5,1139.8 560.7,1143.1 567.3,1144.7 570.0,1150.4 573.3,1153.3 575.9,1151.7 578.5,1151.3 581.2,1153.7 583.8,1157.0 587.8,1161.6 592.4,1163.9 595.7,1161.6 599.0,1156.3 602.3,1154.4 609.6,1154.4 612.8,1156.3 616.1,1159.6 619.4,1162.9 624.1,1164.5 627.4,1160.3 630.7,1158.3 634.0,1160.3 636.6,1164.2 639.9,1167.8 642.5,1164.9 644.1,1151.7 645.2,1139.8 647.2,1134.6 648.9,1126.6 649.5,1105.5 650.2,1079.2 651.2,1063.3 652.6,1058.3 653.9,1062.0 654.8,1073.9 655.7,1092.3 656.8,1113.5 657.8,1126.6 659.7,1138.5 662.1,1147.8 665.0,1157.0 668.3,1161.2 670.6,1151.7 672.5,1133.2 674.5,1131.3 676.5,1145.1 678.5,1157.0 679.8,1157.7 681.8,1145.1 683.7,1138.3 686.4,1138.5 689.0,1145.1 691.0,1155.7 694.3,1160.3 699.6,1162.9 706.2,1163.3 712.8,1164.9 726.0,1167.5 739.2,1170.2 745.8,1171.5 755.0,1172.2 758.9,1170.8 762.9,1164.9 766.9,1162.3 769.5,1158.3 771.5,1145.1 772.8,1140.5 775.4,1138.5 777.4,1131.9 780.1,1126.6 782.7,1126.9 785.3,1128.6 787.3,1131.9 788.6,1139.8 790.6,1140.9 791.9,1131.9 792.6,1118.7 793.9,1105.5 795.9,1102.9 797.9,1106.9 799.8,1118.7 801.8,1129.3 803.8,1133.2 806.4,1137.2 809.1,1141.2 811.7,1146.4 815.7,1146.7 818.3,1143.8 819.9,1131.9 821.6,1121.4 824.9,1118.7 826.9,1112.1 828.6,1092.3 830.2,1052.8 831.5,1000.0 832.5,900.0 833.0,700.0 834.0,604.0 835.0,700.0 836.0,900.0 837.5,966.0 839.5,960.0 841.5,947.0 843.5,955.0 845.0,975.0 847.0,990.0 848.6,1005.0 850.0,1040.0 851.3,1079.0 852.3,1105.0 853.9,1125.3 855.3,1133.2 859.2,1138.5 863.2,1143.1 868.4,1146.4 873.7,1147.8 879.0,1151.7 884.3,1153.7 886.9,1154.6 888.9,1145.1 890.2,1131.9 891.5,1118.7 892.8,1108.2 895.5,1100.3 898.1,1079.2 899.8,1039.6 902.1,1013.2 904.1,1000.0 906.0,1013.2 907.8,1039.6 908.7,1065.2 909.6,1039.6 910.3,1000.0 912.6,991.5 913.2,938.7 913.9,912.3 915.2,883.3 916.5,877.8 917.9,883.3 918.5,912.3 919.2,948.6 920.1,912.3 921.8,891.2 923.8,887.9 924.2,899.2 924.5,925.5 925.8,951.9 928.4,965.1 930.4,984.9 933.0,1004.7 934.6,1017.9 938.3,1032.3 941.6,1017.9 944.9,1006.3 947.2,1024.5 949.5,1046.1 952.8,1037.7 956.7,1030.9 959.4,1050.9 962.0,1070.7 964.6,1090.4 967.9,1099.6 970.6,1090.4 972.6,1085.7 975.2,1097.0 977.8,1106.8 979.6,1092.3 980.7,1057.5 982.1,1024.5 984.4,1012.5 986.4,1044.3 988.4,1073.8 990.4,1057.5 991.7,1031.1 992.3,1010.0 993.0,951.9 993.9,899.2 995.6,884.6 997.0,912.3 998.3,974.6 999.9,925.5 1001.6,907.1 1003.2,904.4 1003.8,938.7 1004.6,951.9 1005.5,978.3 1006.2,1010.0 1007.5,1037.7 1008.8,1055.6 1010.8,1037.7 1012.8,1013.8 1014.5,1024.5 1016.1,1032.9 1018.7,1024.5 1021.4,1021.1 1023.4,1039.5 1025.3,1065.9 1027.3,1092.3 1029.3,1118.7 1031.9,1138.5 1034.6,1146.4 1037.9,1149.9 1039.6,1136.6 1040.6,1118.7 1041.8,1100.2 1043.1,1095.6 1044.9,1105.5 1046.4,1118.7 1048.4,1131.9 1051.1,1137.2 1052.8,1127.4 1053.7,1112.1 1055.7,1094.9 1059.6,1092.3 1060.7,1079.1 1062.0,1052.7 1062.9,1026.3 1063.9,1006.5 1064.9,984.9 1066.9,969.7 1068.9,984.9 1070.8,1010.8 1073.1,984.9 1074.8,951.9 1076.1,918.9 1078.1,909.1 1079.2,938.7 1079.7,979.6 1082.1,971.7 1084.0,969.1 1085.4,984.9 1086.4,1004.7 1089.3,1019.7 1092.6,1034.2 1095.9,1052.7 1097.9,1079.1 1099.9,1105.5 1101.8,1131.9 1103.8,1142.4 1108.4,1145.1 1113.7,1148.5 1117.7,1151.7 1124.3,1155.6 1129.6,1156.9 1131.5,1151.7 1133.2,1131.9 1134.8,1112.1 1136.8,1094.9 1140.1,1092.3 1142.1,1085.7 1144.1,1065.9 1145.6,1052.7 1147.4,1048.1 1149.3,1052.7 1151.3,1063.3 1153.3,1072.5 1155.3,1075.8 1157.3,1071.2 1158.3,1052.7 1159.2,1026.3 1159.9,999.9 1160.6,965.1 1161.2,945.3 1162.5,934.8 1163.6,946.6 1164.5,962.7 1165.8,946.6 1167.8,937.7 1169.1,946.6 1169.8,978.3 1170.7,999.9 1171.8,1026.3 1173.1,1042.2 1177.0,1044.8 1180.3,1052.7 1182.3,1065.9 1184.3,1079.1 1186.3,1092.3 1188.9,1105.5 1192.2,1116.0 1195.5,1118.7 1200.0,1109.4 1200.0,1109.4 1203.3,1133.6 1206.7,1102.7 1210.0,1135.5 1213.3,1097.4 1216.6,1124.3 1220.0,1114.9 1223.3,1128.8 1226.6,1114.8 1230.0,1130.5 1233.3,1103.2 1236.6,1116.0 1240.0,1094.9 1243.3,1112.2 1246.6,1087.3 1249.9,1117.3 1253.3,1091.8 1256.6,1117.1 1259.9,1108.3 1263.3,1118.1 1266.6,1115.7 1269.9,1126.3 1273.3,1123.0 1276.6,1128.2 1279.9,1116.0 1283.2,1126.4 1286.6,1102.5 1289.9,1115.9 1293.2,1098.0 1296.6,1109.4 1299.9,1101.0 1303.2,1114.8 1306.5,1099.7 1309.9,1127.8 1313.2,1118.9 1316.5,1125.0 1319.9,1116.6 1323.2,1125.6 1326.5,1123.7 1329.9,1136.2 1333.2,1128.6 1336.5,1141.2 1339.8,1142.4 1341.2,1149.8 1343.1,1152.3 1345.1,1145.1 1347.5,1125.3 1349.7,1105.5 1350.7,1079.1 1351.5,1039.5 1352.0,999.9 1353.0,951.9 1353.7,912.3 1354.1,901.8 1355.0,912.3 1355.7,951.9 1356.5,999.9 1357.3,1044.3 1358.3,1080.4 1360.3,1057.5 1362.0,1017.9 1363.6,998.8 1364.9,1017.9 1366.0,1050.9 1366.9,1068.5 1368.2,1044.3 1369.9,1004.7 1371.5,989.5 1372.8,1011.3 1373.9,1031.1 1374.9,1011.3 1375.7,984.9 1376.5,938.7 1378.1,912.3 1380.1,907.1 1381.3,918.9 1382.1,938.7 1383.1,978.3 1383.9,999.9 1385.0,1013.1 1387.3,991.5 1389.3,980.9 1391.3,998.1 1392.9,1015.8 1394.6,999.9 1396.3,978.3 1397.0,938.7 1397.9,933.7 1399.2,938.7 1400.3,965.1 1401.1,1010.0 1402.1,1044.3 1403.8,1064.6 1405.8,1044.3 1407.1,1017.9 1408.7,1011.2 1410.4,1031.1 1411.7,1052.7 1413.7,1070.7 1417.7,1085.7 1421.6,1077.3 1424.3,1069.3 1426.3,1067.2 1428.9,1079.1 1430.9,1097.0 1434.2,1111.4 1436.1,1097.0 1437.5,1077.3 1439.4,1057.5 1442.7,1048.1 1444.7,1064.1 1446.7,1075.1 1449.3,1064.1 1452.0,1044.3 1455.3,1031.1 1458.6,1028.3 1461.9,1037.7 1464.5,1057.5 1467.8,1073.8 1469.8,1057.5 1471.1,1039.5 1473.1,1034.2 1474.7,1044.3 1476.0,1064.1 1477.7,1084.4 1481.0,1082.5 1483.6,1092.3 1486.9,1087.8 1488.9,1087.0 1490.0,1097.0 1490.9,1105.5 1492.2,1131.9 1494.2,1145.1 1496.8,1150.3 1500.0,1152.3 1506.6,1156.3 1513.2,1158.3 1519.8,1162.2 1526.4,1163.5 1533.0,1164.9 1539.6,1168.2 1546.2,1168.8 1552.8,1169.5 1558.0,1170.8 1560.9,1169.6 1564.0,1164.9 1565.3,1151.7 1566.6,1134.5 1569.3,1125.3 1571.2,1116.0 1572.3,1092.3 1573.2,1071.2 1574.9,1060.0 1577.2,1079.1 1578.9,1106.8 1581.1,1079.1 1584.4,1069.2 1587.1,1085.7 1589.1,1105.5 1590.0,1113.4 1593.0,1106.3 1595.0,1092.3 1598.3,1081.7 1600.9,1065.9 1604.2,1058.0 1607.5,1079.1 1609.2,1102.8 1611.5,1121.3 1613.5,1131.9 1615.8,1133.9 1618.7,1125.3 1620.3,1105.5 1621.6,1091.8 1623.4,1088.6 1626.9,1103.5 1628.6,1079.1 1630.3,1069.2 1633.2,1079.1 1634.8,1098.9 1636.5,1118.7 1639.2,1129.2 1641.8,1118.7 1643.8,1113.4 1647.1,1115.5 1650.4,1116.0 1651.7,1092.3 1652.8,1070.7 1654.4,1063.9 1657.0,1079.1 1660.3,1094.9 1662.9,1112.1 1664.9,1131.9 1667.5,1143.7 1670.2,1131.9 1671.2,1105.5 1672.2,1079.1 1673.9,1072.8 1676.1,1083.9 1678.1,1098.2 1679.4,1065.9 1680.7,1032.9 1682.1,1017.1 1684.0,1032.9 1685.4,1052.7 1686.7,1072.5 1688.0,1092.3 1690.0,1108.1 1692.0,1114.7 1695.0,1092.3 1695.9,1052.7 1697.2,1026.3 1698.5,1006.5 1699.5,991.5 1700.5,977.0 1702.5,998.1 1705.1,1032.3 1706.5,998.1 1707.4,951.9 1708.0,925.5 1708.7,913.7 1709.8,925.5 1710.4,951.9 1711.7,984.9 1713.5,1017.9 1715.0,1034.9 1717.0,1004.7 1718.3,984.9 1719.7,979.0 1722.3,990.2 1724.3,965.1 1725.6,953.2 1726.6,950.9 1728.2,965.1 1729.6,991.5 1730.2,1010.0 1732.2,1026.3 1734.2,1040.8 1736.8,1044.1 1739.4,1031.1 1740.8,1011.3 1742.1,1006.7 1743.8,1017.9 1745.4,1047.4 1747.4,1031.1 1749.3,1013.4 1750.7,1031.1 1752.0,1064.1 1753.3,1079.1 1755.9,1068.0 1757.9,1060.1 1759.9,1066.7 1761.9,1071.8 1764.5,1064.1 1765.7,1052.7 1765.7,1010.0 1766.5,984.9 1767.5,969.1 1769.1,963.8 1771.1,978.3 1772.4,998.1 1774.4,978.3 1776.0,966.4 1777.7,963.8 1779.7,978.3 1782.3,1007.9 1784.3,984.9 1786.3,975.0 1788.9,979.6 1792.1,998.1 1795.3,1010.0 1797.6,1026.3 1800.0,1065.9 1802.0,1105.5 1804.0,1125.3 1806.6,1135.8 1810.6,1142.4 1815.8,1146.4 1821.1,1149.0 1826.4,1154.3 1833.0,1155.0 1839.6,1158.3 1844.9,1161.6 1850.1,1161.6 1852.1,1151.7 1854.1,1137.2 1858.0,1131.9 1859.4,1118.7 1860.9,1102.8 1862.7,1092.3 1863.6,1065.9 1864.4,1034.2 1864.9,1010.0 1865.3,951.9 1867.9,905.8 1869.9,859.6 1871.0,820.0 1871.2,732.4 1872.8,640.1 1873.1,591.9 1874.1,564.9 1875.5,595.7 1877.2,622.5 1878.9,595.7 1880.5,566.2 1882.1,595.7 1882.8,640.1 1883.8,758.8 1885.1,787.0 1887.1,820.0 1889.1,859.6 1891.0,899.2 1892.3,932.1 1893.7,944.0 1895.6,925.5 1898.3,901.8 1901.6,895.2 1904.2,912.3 1906.2,938.7 1908.2,965.1 1910.2,991.5 1910.8,1010.0 1912.1,1026.3 1914.1,1052.7 1916.1,1067.9 1918.1,1052.7 1919.4,1026.3 1920.3,999.9 1922.0,951.9 1923.4,912.3 1924.0,820.0 1924.7,727.7 1925.3,640.1 1926.0,460.0 1926.9,358.3 1927.4,265.9 1927.8,244.0 1928.6,244.0 1929.0,265.9 1929.6,358.3 1930.6,460.0 1931.3,640.1 1931.9,727.7 1932.6,820.0 1933.5,872.8 1935.9,899.2 1938.5,915.0 1941.8,924.2 1943.8,899.2 1945.8,876.7 1948.4,876.1 1951.7,872.8 1953.7,886.0 1954.6,912.3 1955.7,951.9 1957.7,969.1 1960.9,975.7 1962.9,951.9 1964.2,925.5 1966.2,907.7 1967.8,925.5 1968.9,951.9 1970.4,969.7 1972.8,958.5 1976.1,953.2 1977.8,965.1 1979.4,984.9 1981.4,1002.1 1984.0,1026.3 1986.0,1035.6 1988.0,1017.9 1990.0,1007.2 1993.9,1026.3 1996.6,1046.1 2001.2,1065.9 2003.8,1044.3 2007.4,1027.0 2009.8,1046.1 2013.1,1059.3 2017.7,1075.8 2023.0,1067.2 2024.9,1092.3 2025.9,1118.7 2027.6,1131.9 2032.8,1133.9 2036.1,1144.4 2041.4,1143.7 2046.7,1146.4 2051.3,1149.7 2052.6,1131.9 2054.0,1112.1 2056.6,1104.2 2060.6,1102.8 2061.5,1079.1 2062.8,1039.5 2063.3,1010.0 2064.0,945.3 2065.3,912.3 2066.5,909.7 2067.8,925.5 2069.1,945.3 2071.1,953.2 2073.7,955.9 2073.4,978.3 2074.1,999.9 2075.2,1065.9 2077.0,1118.7 2079.7,1133.2 2083.6,1138.5 2089.6,1143.1 2092.2,1131.9 2093.1,1105.5 2094.2,1065.9 2095.5,1039.5 2096.8,1035.3 2097.9,1044.3 2098.7,1070.7 2099.5,1098.4 2100.6,1077.3 2101.2,1044.3 2101.9,999.9 2102.4,965.1 2103.5,945.3 2104.8,937.7 2106.1,945.3 2107.0,978.3 2108.0,1017.9 2109.0,1061.3 2110.3,1017.9 2111.7,978.3 2112.7,951.9 2114.0,944.0 2115.4,951.9 2116.3,978.3 2117.2,1004.7 2118.3,1024.5 2119.6,1040.8 2123.5,1031.1 2126.2,1015.3 2128.2,1007.3 2131.5,1002.1 2133.4,986.2 2134.7,969.1 2136.1,957.2 2137.0,954.8 2138.0,965.1 2138.7,978.3 2141.3,980.9 2142.3,991.5 2142.5,1010.0 2143.1,1039.5 2143.9,1065.9 2145.2,1105.5 2146.0,1126.6 2148.6,1137.2 2153.9,1140.4 2159.2,1143.1 2165.8,1147.7 2167.7,1148.8" fill="none" stroke="#00f" stroke-width="7.8" stroke-linejoin="round" stroke-linecap="round" transform="translate(0,-0.6)"/><polyline points="386.3,1181.8 386.7,1174.1 388.4,1169.1 399.8,1169.4 413.0,1169.3 426.2,1169.1 438.0,1169.1 441.7,1168.6 442.5,1158.3 443.9,1154.6 448.6,1154.6 451.2,1146.4 452.3,1131.9 453.9,1123.4 456.5,1122.0 458.4,1116.1 459.0,1100.3 459.7,1079.2 460.5,1069.3 461.5,1068.3 462.5,1073.9 463.1,1092.3 464.0,1118.7 465.1,1133.2 466.8,1139.2 471.0,1141.4 475.0,1142.7 478.9,1144.1 481.1,1139.8 481.3,1118.7 481.6,1095.0 482.6,1089.1 485.3,1085.8 486.3,1066.0 487.1,1026.4 487.9,1000.0 488.6,989.4 489.2,989.4 489.8,1000.0 490.7,1039.6 491.6,1079.2 492.8,1104.2 494.4,1117.4 498.1,1122.7 500.7,1126.6 503.4,1133.2 505.1,1134.6 506.6,1126.6 507.7,1113.5 508.8,1107.9 510.3,1107.9 511.7,1113.5 512.7,1124.0 513.9,1132.6 516.5,1135.6 520.1,1136.5 523.1,1131.9 525.8,1128.4 528.4,1129.9 531.7,1135.9 538.3,1139.6 542.9,1143.8 545.6,1144.6 548.2,1141.2 550.2,1139.6 555.5,1139.8 560.7,1143.1 567.3,1144.7 570.0,1150.4 573.3,1153.3 575.9,1151.7 578.5,1151.3 581.2,1153.7 583.8,1157.0 587.8,1161.6 592.4,1163.9 595.7,1161.6 599.0,1156.3 602.3,1154.4 609.6,1154.4 612.8,1156.3 616.1,1159.6 619.4,1162.9 624.1,1164.5 627.4,1160.3 630.7,1158.3 634.0,1160.3 636.6,1164.2 639.9,1167.8 642.5,1164.9 644.1,1151.7 645.2,1139.8 647.2,1134.6 648.9,1126.6 649.5,1105.5 650.2,1079.2 651.2,1063.3 652.6,1058.3 653.9,1062.0 654.8,1073.9 655.7,1092.3 656.8,1113.5 657.8,1126.6 659.7,1138.5 662.1,1147.8 665.0,1157.0 668.3,1161.2 670.6,1151.7 672.5,1133.2 674.5,1131.3 676.5,1145.1 678.5,1157.0 679.8,1157.7 681.8,1145.1 683.7,1138.3 686.4,1138.5 689.0,1145.1 691.0,1155.7 694.3,1160.3 699.6,1162.9 706.2,1163.3 712.8,1164.9 726.0,1167.5 739.2,1170.2 745.8,1171.5 755.0,1172.2 758.9,1170.8 762.9,1164.9 766.9,1162.3 769.5,1158.3 771.5,1145.1 772.8,1140.5 775.4,1138.5 777.4,1131.9 780.1,1126.6 782.7,1126.9 785.3,1128.6 787.3,1131.9 788.6,1139.8 790.6,1140.9 791.9,1131.9 792.6,1118.7 793.9,1105.5 795.9,1102.9 797.9,1106.9 799.8,1118.7 801.8,1129.3 803.8,1133.2 806.4,1137.2 809.1,1141.2 811.7,1146.4 815.7,1146.7 818.3,1143.8 819.9,1131.9 821.6,1121.4 824.9,1118.7 826.9,1112.1 828.6,1092.3 830.2,1052.8 831.5,1000.0 832.5,900.0 833.0,700.0 834.0,604.0 835.0,700.0 836.0,900.0 837.5,966.0 839.5,960.0 841.5,947.0 843.5,955.0 845.0,975.0 847.0,990.0 848.6,1005.0 850.0,1040.0 851.3,1079.0 852.3,1105.0 853.9,1125.3 855.3,1133.2 859.2,1138.5 863.2,1143.1 868.4,1146.4 873.7,1147.8 879.0,1151.7 884.3,1153.7 886.9,1154.6 888.9,1145.1 890.2,1131.9 891.5,1118.7 892.8,1108.2 895.5,1100.3 898.1,1079.2 899.8,1039.6 902.1,1013.2 904.1,1000.0 906.0,1013.2 907.8,1039.6 908.7,1065.2 909.6,1039.6 910.3,1000.0 912.6,991.5 913.2,938.7 913.9,912.3 915.2,883.3 916.5,877.8 917.9,883.3 918.5,912.3 919.2,948.6 920.1,912.3 921.8,891.2 923.8,887.9 924.2,899.2 924.5,925.5 925.8,951.9 928.4,965.1 930.4,984.9 933.0,1004.7 934.6,1017.9 938.3,1032.3 941.6,1017.9 944.9,1006.3 947.2,1024.5 949.5,1046.1 952.8,1037.7 956.7,1030.9 959.4,1050.9 962.0,1070.7 964.6,1090.4 967.9,1099.6 970.6,1090.4 972.6,1085.7 975.2,1097.0 977.8,1106.8 979.6,1092.3 980.7,1057.5 982.1,1024.5 984.4,1012.5 986.4,1044.3 988.4,1073.8 990.4,1057.5 991.7,1031.1 992.3,1010.0 993.0,951.9 993.9,899.2 995.6,884.6 997.0,912.3 998.3,974.6 999.9,925.5 1001.6,907.1 1003.2,904.4 1003.8,938.7 1004.6,951.9 1005.5,978.3 1006.2,1010.0 1007.5,1037.7 1008.8,1055.6 1010.8,1037.7 1012.8,1013.8 1014.5,1024.5 1016.1,1032.9 1018.7,1024.5 1021.4,1021.1 1023.4,1039.5 1025.3,1065.9 1027.3,1092.3 1029.3,1118.7 1031.9,1138.5 1034.6,1146.4 1037.9,1149.9 1039.6,1136.6 1040.6,1118.7 1041.8,1100.2 1043.1,1095.6 1044.9,1105.5 1046.4,1118.7 1048.4,1131.9 1051.1,1137.2 1052.8,1127.4 1053.7,1112.1 1055.7,1094.9 1059.6,1092.3 1060.7,1079.1 1062.0,1052.7 1062.9,1026.3 1063.9,1006.5 1064.9,984.9 1066.9,969.7 1068.9,984.9 1070.8,1010.8 1073.1,984.9 1074.8,951.9 1076.1,918.9 1078.1,909.1 1079.2,938.7 1079.7,979.6 1082.1,971.7 1084.0,969.1 1085.4,984.9 1086.4,1004.7 1089.3,1019.7 1092.6,1034.2 1095.9,1052.7 1097.9,1079.1 1099.9,1105.5 1101.8,1131.9 1103.8,1142.4 1108.4,1145.1 1113.7,1148.5 1117.7,1151.7 1124.3,1155.6 1129.6,1156.9 1131.5,1151.7 1133.2,1131.9 1134.8,1112.1 1136.8,1094.9 1140.1,1092.3 1142.1,1085.7 1144.1,1065.9 1145.6,1052.7 1147.4,1048.1 1149.3,1052.7 1151.3,1063.3 1153.3,1072.5 1155.3,1075.8 1157.3,1071.2 1158.3,1052.7 1159.2,1026.3 1159.9,999.9 1160.6,965.1 1161.2,945.3 1162.5,934.8 1163.6,946.6 1164.5,962.7 1165.8,946.6 1167.8,937.7 1169.1,946.6 1169.8,978.3 1170.7,999.9 1171.8,1026.3 1173.1,1042.2 1177.0,1044.8 1180.3,1052.7 1182.3,1065.9 1184.3,1079.1 1186.3,1092.3 1188.9,1105.5 1192.2,1116.0 1195.5,1118.7 1200.0,1109.4 1200.0,1109.4 1203.3,1133.6 1206.7,1102.7 1210.0,1135.5 1213.3,1097.4 1216.6,1124.3 1220.0,1114.9 1223.3,1128.8 1226.6,1114.8 1230.0,1130.5 1233.3,1103.2 1236.6,1116.0 1240.0,1094.9 1243.3,1112.2 1246.6,1087.3 1249.9,1117.3 1253.3,1091.8 1256.6,1117.1 1259.9,1108.3 1263.3,1118.1 1266.6,1115.7 1269.9,1126.3 1273.3,1123.0 1276.6,1128.2 1279.9,1116.0 1283.2,1126.4 1286.6,1102.5 1289.9,1115.9 1293.2,1098.0 1296.6,1109.4 1299.9,1101.0 1303.2,1114.8 1306.5,1099.7 1309.9,1127.8 1313.2,1118.9 1316.5,1125.0 1319.9,1116.6 1323.2,1125.6 1326.5,1123.7 1329.9,1136.2 1333.2,1128.6 1336.5,1141.2 1339.8,1142.4 1341.2,1149.8 1343.1,1152.3 1345.1,1145.1 1347.5,1125.3 1349.7,1105.5 1350.7,1079.1 1351.5,1039.5 1352.0,999.9 1353.0,951.9 1353.7,912.3 1354.1,901.8 1355.0,912.3 1355.7,951.9 1356.5,999.9 1357.3,1044.3 1358.3,1080.4 1360.3,1057.5 1362.0,1017.9 1363.6,998.8 1364.9,1017.9 1366.0,1050.9 1366.9,1068.5 1368.2,1044.3 1369.9,1004.7 1371.5,989.5 1372.8,1011.3 1373.9,1031.1 1374.9,1011.3 1375.7,984.9 1376.5,938.7 1378.1,912.3 1380.1,907.1 1381.3,918.9 1382.1,938.7 1383.1,978.3 1383.9,999.9 1385.0,1013.1 1387.3,991.5 1389.3,980.9 1391.3,998.1 1392.9,1015.8 1394.6,999.9 1396.3,978.3 1397.0,938.7 1397.9,933.7 1399.2,938.7 1400.3,965.1 1401.1,1010.0 1402.1,1044.3 1403.8,1064.6 1405.8,1044.3 1407.1,1017.9 1408.7,1011.2 1410.4,1031.1 1411.7,1052.7 1413.7,1070.7 1417.7,1085.7 1421.6,1077.3 1424.3,1069.3 1426.3,1067.2 1428.9,1079.1 1430.9,1097.0 1434.2,1111.4 1436.1,1097.0 1437.5,1077.3 1439.4,1057.5 1442.7,1048.1 1444.7,1064.1 1446.7,1075.1 1449.3,1064.1 1452.0,1044.3 1455.3,1031.1 1458.6,1028.3 1461.9,1037.7 1464.5,1057.5 1467.8,1073.8 1469.8,1057.5 1471.1,1039.5 1473.1,1034.2 1474.7,1044.3 1476.0,1064.1 1477.7,1084.4 1481.0,1082.5 1483.6,1092.3 1486.9,1087.8 1488.9,1087.0 1490.0,1097.0 1490.9,1105.5 1492.2,1131.9 1494.2,1145.1 1496.8,1150.3 1500.0,1152.3 1506.6,1156.3 1513.2,1158.3 1519.8,1162.2 1526.4,1163.5 1533.0,1164.9 1539.6,1168.2 1546.2,1168.8 1552.8,1169.5 1558.0,1170.8 1560.9,1169.6 1564.0,1164.9 1565.3,1151.7 1566.6,1134.5 1569.3,1125.3 1571.2,1116.0 1572.3,1092.3 1573.2,1071.2 1574.9,1060.0 1577.2,1079.1 1578.9,1106.8 1581.1,1079.1 1584.4,1069.2 1587.1,1085.7 1589.1,1105.5 1590.0,1113.4 1593.0,1106.3 1595.0,1092.3 1598.3,1081.7 1600.9,1065.9 1604.2,1058.0 1607.5,1079.1 1609.2,1102.8 1611.5,1121.3 1613.5,1131.9 1615.8,1133.9 1618.7,1125.3 1620.3,1105.5 1621.6,1091.8 1623.4,1088.6 1626.9,1103.5 1628.6,1079.1 1630.3,1069.2 1633.2,1079.1 1634.8,1098.9 1636.5,1118.7 1639.2,1129.2 1641.8,1118.7 1643.8,1113.4 1647.1,1115.5 1650.4,1116.0 1651.7,1092.3 1652.8,1070.7 1654.4,1063.9 1657.0,1079.1 1660.3,1094.9 1662.9,1112.1 1664.9,1131.9 1667.5,1143.7 1670.2,1131.9 1671.2,1105.5 1672.2,1079.1 1673.9,1072.8 1676.1,1083.9 1678.1,1098.2 1679.4,1065.9 1680.7,1032.9 1682.1,1017.1 1684.0,1032.9 1685.4,1052.7 1686.7,1072.5 1688.0,1092.3 1690.0,1108.1 1692.0,1114.7 1695.0,1092.3 1695.9,1052.7 1697.2,1026.3 1698.5,1006.5 1699.5,991.5 1700.5,977.0 1702.5,998.1 1705.1,1032.3 1706.5,998.1 1707.4,951.9 1708.0,925.5 1708.7,913.7 1709.8,925.5 1710.4,951.9 1711.7,984.9 1713.5,1017.9 1715.0,1034.9 1717.0,1004.7 1718.3,984.9 1719.7,979.0 1722.3,990.2 1724.3,965.1 1725.6,953.2 1726.6,950.9 1728.2,965.1 1729.6,991.5 1730.2,1010.0 1732.2,1026.3 1734.2,1040.8 1736.8,1044.1 1739.4,1031.1 1740.8,1011.3 1742.1,1006.7 1743.8,1017.9 1745.4,1047.4 1747.4,1031.1 1749.3,1013.4 1750.7,1031.1 1752.0,1064.1 1753.3,1079.1 1755.9,1068.0 1757.9,1060.1 1759.9,1066.7 1761.9,1071.8 1764.5,1064.1 1765.7,1052.7 1765.7,1010.0 1766.5,984.9 1767.5,969.1 1769.1,963.8 1771.1,978.3 1772.4,998.1 1774.4,978.3 1776.0,966.4 1777.7,963.8 1779.7,978.3 1782.3,1007.9 1784.3,984.9 1786.3,975.0 1788.9,979.6 1792.1,998.1 1795.3,1010.0 1797.6,1026.3 1800.0,1065.9 1802.0,1105.5 1804.0,1125.3 1806.6,1135.8 1810.6,1142.4 1815.8,1146.4 1821.1,1149.0 1826.4,1154.3 1833.0,1155.0 1839.6,1158.3 1844.9,1161.6 1850.1,1161.6 1852.1,1151.7 1854.1,1137.2 1858.0,1131.9 1859.4,1118.7 1860.9,1102.8 1862.7,1092.3 1863.6,1065.9 1864.4,1034.2 1864.9,1010.0 1865.3,951.9 1867.9,905.8 1869.9,859.6 1871.0,820.0 1871.2,732.4 1872.8,640.1 1873.1,591.9 1874.1,564.9 1875.5,595.7 1877.2,622.5 1878.9,595.7 1880.5,566.2 1882.1,595.7 1882.8,640.1 1883.8,758.8 1885.1,787.0 1887.1,820.0 1889.1,859.6 1891.0,899.2 1892.3,932.1 1893.7,944.0 1895.6,925.5 1898.3,901.8 1901.6,895.2 1904.2,912.3 1906.2,938.7 1908.2,965.1 1910.2,991.5 1910.8,1010.0 1912.1,1026.3 1914.1,1052.7 1916.1,1067.9 1918.1,1052.7 1919.4,1026.3 1920.3,999.9 1922.0,951.9 1923.4,912.3 1924.0,820.0 1924.7,727.7 1925.3,640.1 1926.0,460.0 1926.9,358.3 1927.4,265.9 1927.8,244.0 1928.6,244.0 1929.0,265.9 1929.6,358.3 1930.6,460.0 1931.3,640.1 1931.9,727.7 1932.6,820.0 1933.5,872.8 1935.9,899.2 1938.5,915.0 1941.8,924.2 1943.8,899.2 1945.8,876.7 1948.4,876.1 1951.7,872.8 1953.7,886.0 1954.6,912.3 1955.7,951.9 1957.7,969.1 1960.9,975.7 1962.9,951.9 1964.2,925.5 1966.2,907.7 1967.8,925.5 1968.9,951.9 1970.4,969.7 1972.8,958.5 1976.1,953.2 1977.8,965.1 1979.4,984.9 1981.4,1002.1 1984.0,1026.3 1986.0,1035.6 1988.0,1017.9 1990.0,1007.2 1993.9,1026.3 1996.6,1046.1 2001.2,1065.9 2003.8,1044.3 2007.4,1027.0 2009.8,1046.1 2013.1,1059.3 2017.7,1075.8 2023.0,1067.2 2024.9,1092.3 2025.9,1118.7 2027.6,1131.9 2032.8,1133.9 2036.1,1144.4 2041.4,1143.7 2046.7,1146.4 2051.3,1149.7 2052.6,1131.9 2054.0,1112.1 2056.6,1104.2 2060.6,1102.8 2061.5,1079.1 2062.8,1039.5 2063.3,1010.0 2064.0,945.3 2065.3,912.3 2066.5,909.7 2067.8,925.5 2069.1,945.3 2071.1,953.2 2073.7,955.9 2073.4,978.3 2074.1,999.9 2075.2,1065.9 2077.0,1118.7 2079.7,1133.2 2083.6,1138.5 2089.6,1143.1 2092.2,1131.9 2093.1,1105.5 2094.2,1065.9 2095.5,1039.5 2096.8,1035.3 2097.9,1044.3 2098.7,1070.7 2099.5,1098.4 2100.6,1077.3 2101.2,1044.3 2101.9,999.9 2102.4,965.1 2103.5,945.3 2104.8,937.7 2106.1,945.3 2107.0,978.3 2108.0,1017.9 2109.0,1061.3 2110.3,1017.9 2111.7,978.3 2112.7,951.9 2114.0,944.0 2115.4,951.9 2116.3,978.3 2117.2,1004.7 2118.3,1024.5 2119.6,1040.8 2123.5,1031.1 2126.2,1015.3 2128.2,1007.3 2131.5,1002.1 2133.4,986.2 2134.7,969.1 2136.1,957.2 2137.0,954.8 2138.0,965.1 2138.7,978.3 2141.3,980.9 2142.3,991.5 2142.5,1010.0 2143.1,1039.5 2143.9,1065.9 2145.2,1105.5 2146.0,1126.6 2148.6,1137.2 2153.9,1140.4 2159.2,1143.1 2165.8,1147.7 2167.7,1148.8" fill="none" stroke="#00f" stroke-width="7.8" stroke-linejoin="round" stroke-linecap="round" transform="translate(0,0.6)"/></g>
<text class="tk" x="386.2" y="1289.6" text-anchor="middle">0</text>
<text class="tk" x="626.2" y="1289.6" text-anchor="middle">200</text>
<text class="tk" x="868.0" y="1289.6" text-anchor="middle">400</text>
<text class="tk" x="1104.3" y="1289.6" text-anchor="middle">600</text>
<text class="tk" x="1343.8" y="1289.6" text-anchor="middle">800</text>
<text class="tk" x="1585.1" y="1289.6" text-anchor="middle">1000</text>
<text class="tk" x="1823.3" y="1289.6" text-anchor="middle">1200</text>
<text class="tk" x="2061.0" y="1289.6" text-anchor="middle">1400</text>
<text class="tk" x="2300.0" y="1289.6" text-anchor="middle">1600</text>
<text class="tk" x="313.4" y="1206.2">0</text>
<text class="tk" x="137.1" y="984.0">1 × 10<tspan class="sup" dx="-2.6" dy="-25.8">10</tspan></text>
<text class="tk" x="137.1" y="761.0">2 × 10<tspan class="sup" dx="-2.6" dy="-25.8">10</tspan></text>
<text class="tk" x="137.1" y="539.0">3 × 10<tspan class="sup" dx="-2.6" dy="-25.8">10</tspan></text>
<text class="tk" x="137.1" y="316.0">4 × 10<tspan class="sup" dx="-2.6" dy="-25.8">10</tspan></text>
<text class="tk" x="154.1" y="108.2">5 × 10<tspan class="sup" dx="-2.6" dy="-25.8">10</tspan></text>
<text class="ttl" x="1343.5" y="1393.6" text-anchor="middle">t [s]</text>
<g transform="translate(79,0) rotate(-90)"><text class="ttl" x="-736.7" y="0">E</text><text class="sub" x="-697.4" y="9">PN</text><text class="ttl" x="-612" y="0" letter-spacing="-0.6">[1/s]</text></g>
</svg>
</body>
</html>
